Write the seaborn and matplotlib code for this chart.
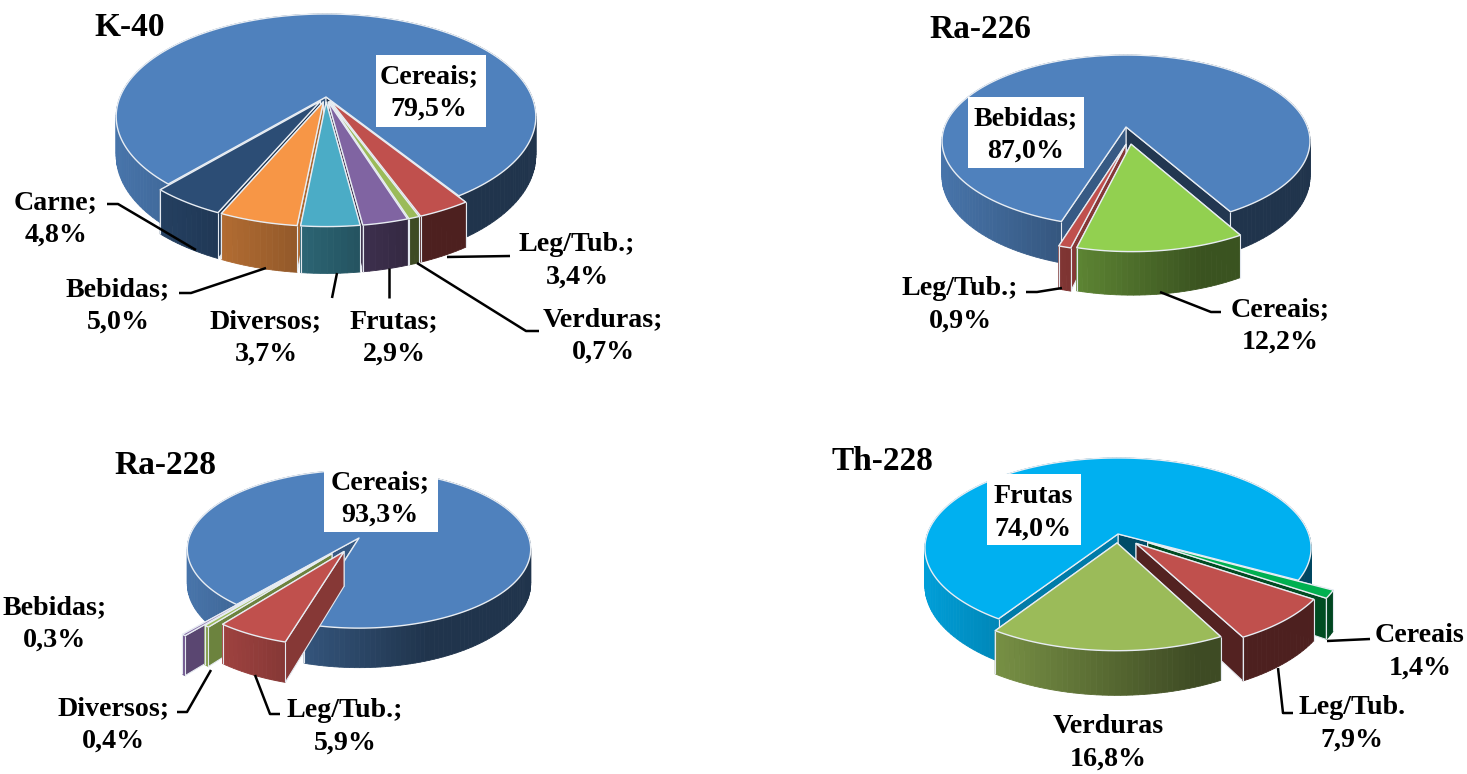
import numpy as np
import matplotlib
matplotlib.use("Agg")
import matplotlib.pyplot as plt
from matplotlib.patches import Polygon, Rectangle
import seaborn as sns

# ---- data (clockwise drawing order) ----
K40_NAMES = ["Cereais", "Leg/Tub.", "Verduras", "Frutas", "Diversos", "Bebidas", "Carne"]
K40_VALUES = [79.5, 3.4, 0.7, 2.9, 3.7, 5.0, 4.8]
RA226_NAMES = ["Bebidas", "Cereais", "Leg/Tub."]
RA226_VALUES = [87.0, 12.2, 0.9]
RA228_NAMES = ["Cereais", "Leg/Tub.", "Diversos", "Bebidas"]
RA228_VALUES = [93.3, 5.9, 0.4, 0.3]
TH228_NAMES = ["Frutas", "Cereais", "Leg/Tub.", "Verduras"]
TH228_VALUES = [74.0, 1.4, 7.9, 16.8]

# ---- styles ----
BLUE, RED, GREEN, PURPLE = "#4F81BD", "#C0504D", "#9BBB59", "#8064A2"
TEAL, ORANGE, NAVY = "#4BACC6", "#F79646", "#2C4D75"
K40_COLORS = [BLUE, RED, GREEN, PURPLE, TEAL, ORANGE, NAVY]
RA226_COLORS = [BLUE, "#92D050", RED]
RA228_COLORS = [BLUE, RED, GREEN, PURPLE]
TH228_COLORS = ["#00B0F0", "#00B050", RED, GREEN]

sns.set_theme(style="white")
plt.rcParams["font.family"] = ["Liberation Serif", "DejaVu Serif"]
FS, TFS = 20.2, 24

fig = plt.figure(figsize=(14.67, 7.74), dpi=100)
ax = fig.add_axes([0, 0, 1, 1])
ax.set_xlim(0, 1467)
ax.set_ylim(774, 0)
ax.axis("off")

EDGE = "#e4e9f0"


def pct(v):
    return f"{v:.1f}".replace(".", ",") + "%"


def shade(col, f):
    return tuple(c * f for c in matplotlib.colors.to_rgb(col))


def pie3d(values, colors, explode, first, cx, cy, R, H, k, d, pull_dir=None):
    """Perspective 3-D pie; the angles come from the values, clockwise from 12 o'clock."""
    values = np.asarray(values, float)
    sweep = values / values.sum() * 360
    semi = R / np.sqrt(1 - k * k)
    pull_dir = pull_dir or [None] * len(values)

    def proj(u, v):
        s = 1 / (1 - k * v)
        return cx + R * u * s, cy + H * v * s, d * s

    def wall_col(col, x):
        t = np.clip((x - (cx - semi)) / (2 * semi), 0, 1)
        f = 0.9 - 0.5 * min(t / 0.7, 1)
        return shade(col, f)

    slices, a = [], first
    for sw, col, e, pd in zip(sweep, colors, explode, pull_dir):
        mid = np.radians(a + sw / 2)
        pull = mid if pd is None else np.radians(pd)
        slices.append((a, a + sw, col, e * np.sin(pull), -e * np.cos(pull), -np.cos(mid)))
        a += sw
    # back to front
    for a0, a1, col, ou, ov, _ in sorted(slices, key=lambda s: s[5]):
        th = np.radians(np.linspace(a0, a1, max(3, int((a1 - a0) / 1.5) + 2)))
        us, vs = np.sin(th) + ou, -np.cos(th) + ov
        ax0, ay0, ad0 = proj(ou, ov)
        pts = [proj(u, v) for u, v in zip(us, vs)]
        # cut faces: the farther edge first, so the nearer one covers it
        faces = [(vs[0], pts[0], 0.70), (vs[-1], pts[-1], 0.43)]
        for _, p, f in sorted(faces, key=lambda t: t[0]):
            ax.add_patch(Polygon([(ax0, ay0), (p[0], p[1]), (p[0], p[1] + p[2]), (ax0, ay0 + ad0)],
                                 closed=True, fc=shade(col, f), ec=EDGE, lw=0.8))
        # outer wall, shaded from left to right
        for p, q in zip(pts[:-1], pts[1:]):
            c = wall_col(col, (p[0] + q[0]) / 2)
            ax.add_patch(Polygon([(p[0], p[1]), (q[0], q[1]), (q[0], q[1] + q[2]), (p[0], p[1] + p[2])],
                                 closed=True, fc=c, ec=c, lw=0.6))
        for p in (pts[0], pts[-1]):
            ax.add_patch(Polygon([(p[0], p[1]), (p[0], p[1] + p[2])], closed=False, fill=False,
                                 ec=EDGE, lw=0.8))
        # top
        ax.add_patch(Polygon([(ax0, ay0)] + [(p[0], p[1]) for p in pts], closed=True,
                             fc=col, ec="#e8edf3", lw=1.0, joinstyle="round"))


def label(name, sep, v, x, y, box=None):
    if box is not None:
        ax.add_patch(Rectangle((box[0], box[1]), box[2] - box[0], box[3] - box[1], fc="white", ec="none", zorder=5))
    ax.text(x, y, f"{name}{sep}\n{pct(v)}", ha="center", va="center", fontsize=FS, fontweight="bold",
            color="black", linespacing=1.39, zorder=6)


def leader(*pts):
    xs, ys = zip(*pts)
    ax.plot(xs, ys, color="black", lw=1.8, zorder=4, solid_capstyle="butt")


def title(s, x, y):
    ax.text(x, y, s, ha="center", va="center", fontsize=TFS, fontweight="bold", color="black", zorder=6)


# K-40
pie3d(K40_VALUES, K40_COLORS, [0, .05, .05, .05, .05, .05, .05], 221, 326, 97, 206, 98.8, .19, 37.5)
title("K-40", 130, 27)
K = dict(zip(K40_NAMES, K40_VALUES))
label("Cereais", ";", K["Cereais"], 429, 93, (376, 55, 486, 127))
label("Carne", ";", K["Carne"], 56, 219)
label("Bebidas", ";", K["Bebidas"], 118, 306)
label("Diversos", ";", K["Diversos"], 266, 338)
label("Frutas", ";", K["Frutas"], 394, 338)
label("Verduras", ";", K["Verduras"], 603, 336)
label("Leg/Tub.", ";", K["Leg/Tub."], 577, 261)
leader((107, 204), (118, 204), (196, 250))
leader((179, 293), (191, 293), (266, 268))
leader((332, 298), (337, 273))
leader((389, 298), (389, 268))
leader((539, 331), (526, 331), (417, 263))
leader((510, 256), (447, 257))

# Ra-226
pie3d(RA226_VALUES, RA226_COLORS, [0, .2, .2], 197.5, 1126, 127, 181.5, 83.7, .163, 35,
      pull_dir=[None, None, 180])
title("Ra-226", 980, 29)
K = dict(zip(RA226_NAMES, RA226_VALUES))
label("Bebidas", ";", K["Bebidas"], 1026, 135, (968, 97, 1084, 168))
label("Leg/Tub.", ";", K["Leg/Tub."], 960, 305)
label("Cereais", ";", K["Cereais"], 1280, 326)
leader((1026, 292), (1037, 292), (1062, 288))
leader((1221, 312), (1211, 312), (1160, 292))

# Ra-228
pie3d(RA228_VALUES, RA228_COLORS, [0, .19, .25, .38], 220, 359, 538, 170, 77.5, .14, 34)
title("Ra-228", 165, 465)
K = dict(zip(RA228_NAMES, RA228_VALUES))
label("Cereais", ";", K["Cereais"], 380, 499, (324, 466, 438, 532))
label("Bebidas", ";", K["Bebidas"], 55, 624)
label("Diversos", ";", K["Diversos"], 113, 725)
label("Leg/Tub.", ";", K["Leg/Tub."], 345, 727)
leader((177, 712), (187, 712), (211, 670))
leader((280, 714), (270, 714), (255, 675))

# Th-228
pie3d(TH228_VALUES, TH228_COLORS, [0, .18, .14, .10], 213, 1118, 534, 190.7, 87.9, .156, 37)
title("Th-228", 882, 462)
K = dict(zip(TH228_NAMES, TH228_VALUES))
label("Frutas", "", K["Frutas"], 1033, 513, (987, 474, 1081, 545))
label("Cereais", "", K["Cereais"], 1420, 652)
label("Leg/Tub.", "", K["Leg/Tub."], 1352, 724)
label("Verduras", "", K["Verduras"], 1108, 743)
leader((1370, 639), (1327, 641))
leader((1293, 713), (1283, 713), (1278, 668))

sns.despine(ax=ax, left=True, bottom=True)
fig.savefig("out.png", dpi=100, facecolor="white")
